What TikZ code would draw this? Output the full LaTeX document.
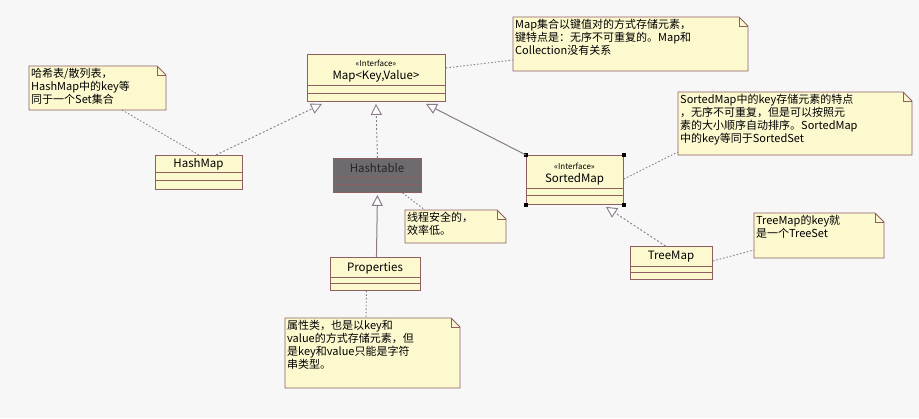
\documentclass[tikz,border=0pt]{standalone}
\usepackage{fontspec}
\setmainfont{Noto Sans CJK SC}
\usetikzlibrary{arrows.meta,calc}
\definecolor{cfill}{HTML}{FCF9CF}
\definecolor{cbord}{HTML}{8E5E62}
\definecolor{cline}{HTML}{8A7A8A}
\definecolor{cdark}{HTML}{6E6A6E}
\tikzset{
 cls/.style={draw=cbord,fill=cfill,line width=0.9pt,inner sep=0pt,anchor=north west},
 ttl/.style={font=\fontsize{11.5}{12}\selectfont,inner sep=0pt},
 stereo/.style={font=\fontsize{8}{9}\selectfont,inner sep=0pt},
 nt/.style={font=\fontsize{11}{13}\selectfont,align=left,anchor=north west,inner sep=2pt},
 ntbox/.style={draw=cbord,fill=cfill,line width=0.9pt},
 realize/.style={draw=cline,line width=0.9pt,dash pattern=on 2pt off 2pt,-{Triangle[open,length=11pt,width=11pt,fill=white]}},
 gener/.style={draw=cline,line width=1pt,-{Triangle[open,length=11pt,width=11pt,fill=white]}},
 anchorline/.style={draw=cline,line width=0.9pt,dash pattern=on 1.5pt off 2pt},
 handle/.style={fill=black,minimum size=4pt,inner sep=0pt}
}
\newcommand{\umlnote}[6]{%
 \coordinate (#1-nw) at (#2,#3); \coordinate (#1-se) at (#4,#5);
 \path[ntbox] (#2,#3) -- (#4-9,#3) -- (#4,#3+9) -- (#4,#5) -- (#2,#5) -- cycle;
 \draw[cbord,line width=0.8pt] (#4-9,#3) -- (#4-9,#3+9) -- (#4,#3+9);
 \node[nt] (#1) at (#2,#3) {#6};}
\begin{document}
\begin{tikzpicture}[x=1pt,y=-1pt]
\useasboundingbox[fill=white!97!black] (0,0) rectangle (919,418);
% classes
\node[cls,minimum width=138pt,minimum height=47pt] (map) at (307,54) {};
\node[stereo] at (376,63) {<<Interface>>};
\node[ttl] at (376,76) {Map<Key,Value>};
\draw[cbord,line width=0.9pt] (307,85) -- (445,85) (307,93) -- (445,93);

\node[cls,minimum width=87pt,minimum height=34pt] (hashmap) at (155,155) {};
\node[ttl] at (198.5,164) {HashMap};
\draw[cbord,line width=0.9pt] (155,172) -- (242,172) (155,180) -- (242,180);

\node[cls,fill=cdark,minimum width=88pt,minimum height=34pt] (hashtable) at (333,158) {};
\node[ttl,text=black!85] at (377,168) {Hashtable};
\draw[cbord,line width=0.9pt] (333,177) -- (421,177) (333,184) -- (421,184);

\node[cls,minimum width=97pt,minimum height=49pt] (sorted) at (526,155) {};
\node[stereo] at (574.5,166) {<<Interface>>};
\node[ttl] at (574.5,179) {SortedMap};
\draw[cbord,line width=0.9pt] (526,188) -- (623,188) (526,195) -- (623,195);
\foreach \c in {north west,north east,south west,south east}
 \node[handle] at (sorted.\c) {};

\node[cls,minimum width=90pt,minimum height=33pt] (props) at (330,257) {};
\node[ttl] at (375,268) {Properties};
\draw[cbord,line width=0.9pt] (330,277) -- (420,277) (330,283) -- (420,283);

\node[cls,minimum width=82pt,minimum height=33pt] (treemap) at (630,246) {};
\node[ttl] at (671,257) {TreeMap};
\draw[cbord,line width=0.9pt] (630,266) -- (712,266) (630,272) -- (712,272);

% notes
\umlnote{nmap}{513}{17}{748}{71}{Map集合以键值对的方式存储元素，\\键特点是：无序不可重复的。Map和\\Collection没有关系}
\umlnote{nhash}{29}{66}{166}{110}{哈希表/散列表，\\HashMap中的key等\\同于一个Set集合}
\umlnote{nsort}{678}{92}{912}{155}{SortedMap中的key存储元素的特点\\，无序不可重复，但是可以按照元\\素的大小顺序自动排序。SortedMap\\中的key等同于SortedSet}
\umlnote{nthread}{405}{210}{506}{243}{线程安全的，\\效率低。}
\umlnote{ntree}{754}{213}{884}{258}{TreeMap的key就\\是一个TreeSet}
\umlnote{nprop}{285}{318}{460}{388}{属性类，也是以key和\\value的方式存储元素，但\\是key和value只能是字符\\串类型。}

% relations
\draw[realize] (hashmap.north) ++(17,0) -- ($(map.south west)+(15,2)$);
\draw[realize] (hashtable.north) -- ($(map.south west)+(69,2)$);
\draw[gener] (sorted.north west) -- ($(map.south east)+(-20,2)$);
\draw[gener] (props.north) ++(1,0) -- ($(hashtable.south)+(0,2)$);
\draw[realize] (treemap.north) ++(-6,0) -- ($(sorted.south east)+(-18,2)$);
% note anchors
\draw[anchorline] (map.east) ++(0,-10) -- (513,60);
\draw[anchorline] (122,110) -- (hashmap.north) ++(-22,0);
\draw[anchorline] (sorted.east) ++(0,-1) -- (678,152);
\draw[anchorline] (hashtable.south) ++(25,0) -- (425,210);
\draw[anchorline] (props.south) ++(-9,0) -- (366,318);
\draw[anchorline] (treemap.east) ++(0,-2) -- (754,250);
\end{tikzpicture}
\end{document}
